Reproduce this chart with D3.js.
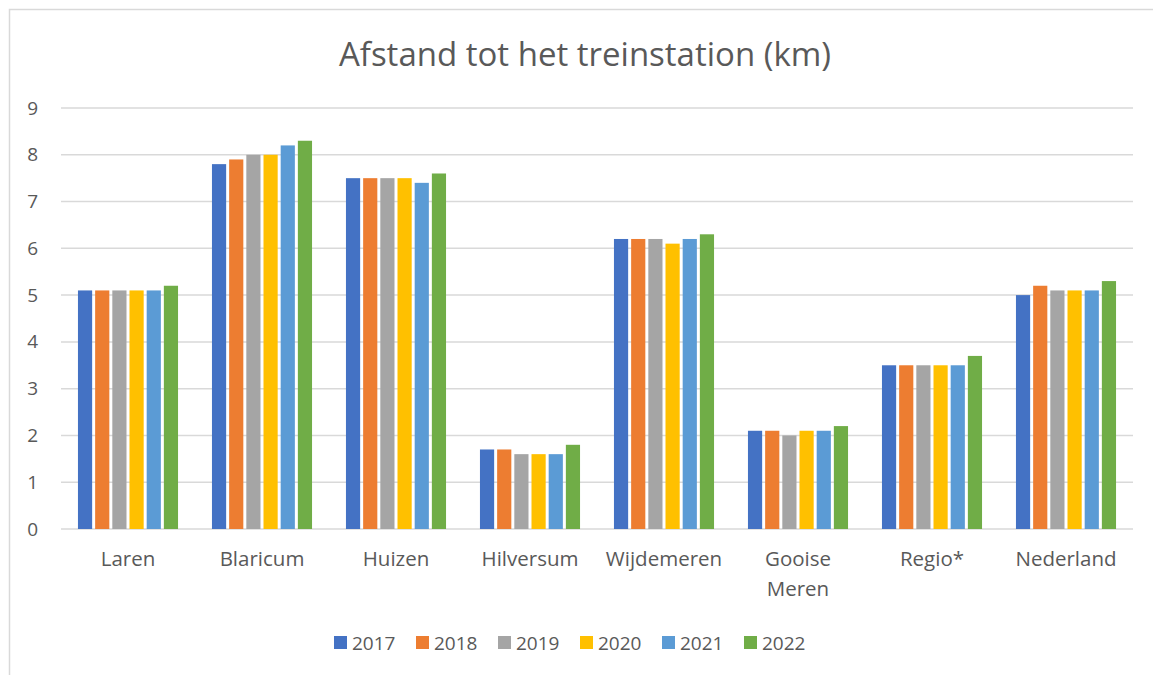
<!DOCTYPE html>
<html lang="nl">
<head>
<meta charset="utf-8">
<title>Afstand tot het treinstation (km)</title>
<script src="https://d3js.org/d3.v7.min.js"></script>
<style>
  body { margin: 0; background: #fff; }
  text { font-family: "Open Sans", "Noto Sans", sans-serif; fill: #595959; }
</style>
</head>
<body>
<script>
// data
var gebieden = ["Laren", "Blaricum", "Huizen", "Hilversum", "Wijdemeren", "Gooise Meren", "Regio*", "Nederland"];
var jaren = ["2017", "2018", "2019", "2020", "2021", "2022"];
var kleuren = ["#4472c4", "#ed7d31", "#a5a5a5", "#ffc000", "#5b9bd5", "#70ad47"];
var yTicks = [0, 1, 2, 3, 4, 5, 6, 7, 8, 9];

var w2017 = [5.1, 7.8, 7.5, 1.7, 6.2, 2.1, 3.5, 5.0];
var w2018 = [5.1, 7.9, 7.5, 1.7, 6.2, 2.1, 3.5, 5.2];
var w2019 = [5.1, 8.0, 7.5, 1.6, 6.2, 2.0, 3.5, 5.1];
var w2020 = [5.1, 8.0, 7.5, 1.6, 6.1, 2.1, 3.5, 5.1];
var w2021 = [5.1, 8.2, 7.4, 1.6, 6.2, 2.1, 3.5, 5.1];
var w2022 = [5.2, 8.3, 7.6, 1.8, 6.3, 2.2, 3.7, 5.3];
var reeksen = [w2017, w2018, w2019, w2020, w2021, w2022];

var limX = 1153, limY = 675;
var svg = d3.select("body").append("svg")
  .attr("width", limX).attr("height", limY);

// chart frame
svg.append("rect")
  .attr("x", 9.5).attr("y", 9.5)
  .attr("width", 1160).attr("height", 700)
  .attr("fill", "none").attr("stroke", "#d9d9d9").attr("stroke-width", 1.5);

// title
svg.append("text")
  .attr("x", 585).attr("y", 66)
  .attr("text-anchor", "middle")
  .style("font-size", "33px")
  .text("Afstand tot het treinstation (km)");

var pLeft = 61, pRight = 1133, pTop = 108, pBottom = 529;

var x0 = d3.scaleBand().domain(gebieden).range([pLeft, pRight]);
var x1 = d3.scaleBand().domain(jaren).range([0, x0.bandwidth()]).paddingOuter(0.9);
var y = d3.scaleLinear().domain([0, 9]).range([pBottom, pTop]);

// gridlines
svg.append("g").selectAll("line")
  .data(yTicks).enter().append("line")
  .attr("x1", pLeft).attr("x2", pRight)
  .attr("y1", function(d){ return y(d); })
  .attr("y2", function(d){ return y(d); })
  .attr("stroke", "#d9d9d9").attr("stroke-width", 1.5);

// y axis labels
var yAxis = d3.axisLeft(y).tickValues(yTicks).tickSize(0).tickPadding(0);
var gy = svg.append("g").attr("transform", "translate(38,0)").call(yAxis);
gy.select(".domain").remove();
gy.selectAll("text").style("font-size", "19px").style("font-family", "'Open Sans', sans-serif")
  .attr("fill", "#595959");

// bars
var groepen = svg.append("g").selectAll("g")
  .data(gebieden).enter().append("g")
  .attr("transform", function(d){ return "translate(" + x0(d) + ",0)"; });

groepen.selectAll("rect")
  .data(function(d, i){ return jaren.map(function(j, k){ return {jaar: j, v: reeksen[k][i], k: k}; }); })
  .enter().append("rect")
  .attr("x", function(d){ return x1(d.jaar) + 1.5; })
  .attr("width", x1.bandwidth() - 3)
  .attr("y", function(d){ return y(d.v); })
  .attr("height", function(d){ return pBottom - y(d.v); })
  .attr("fill", function(d){ return kleuren[d.k]; });

// category labels
var gx = svg.append("g").selectAll("text")
  .data(gebieden).enter().append("text")
  .attr("x", function(d){ return x0(d) + x0.bandwidth() / 2; })
  .attr("y", 566)
  .attr("text-anchor", "middle")
  .style("font-size", "20.5px");
gx.each(function(d){
  var parts = d.split(" ");
  var t = d3.select(this);
  parts.forEach(function(p, i){
    t.append("tspan")
      .attr("x", x0(d) + x0.bandwidth() / 2)
      .attr("dy", i === 0 ? 0 : 30)
      .text(p);
  });
});

// legend
var leg = svg.append("g").selectAll("g")
  .data(jaren).enter().append("g")
  .attr("transform", function(d, i){ return "translate(" + (334 + i * 82) + ",636)"; });
leg.append("rect").attr("width", 13).attr("height", 13)
  .attr("fill", function(d, i){ return kleuren[i]; });
leg.append("text").attr("x", 18).attr("y", 13.5)
  .style("font-size", "19px")
  .text(function(d){ return d; });
</script>
</body>
</html>
